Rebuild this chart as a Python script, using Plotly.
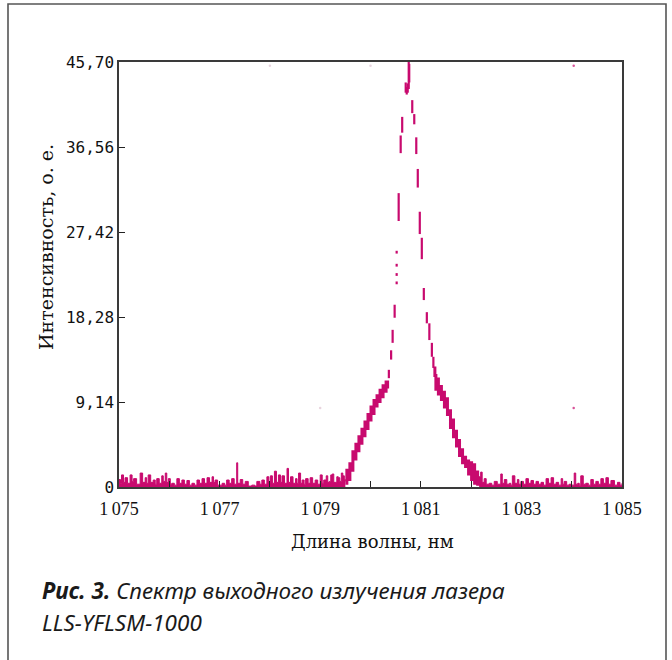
import plotly.graph_objects as go

# ---- data ----
base_left_x = [1075.0, 1075.03, 1075.05, 1075.09, 1075.12, 1075.17, 1075.22, 1075.26, 1075.29, 1075.35,
               1075.42, 1075.47, 1075.52, 1075.55, 1075.58, 1075.63, 1075.68, 1075.72, 1075.75, 1075.80,
               1075.85, 1075.88, 1075.92, 1075.95, 1075.98, 1076.02, 1076.05, 1076.10, 1076.15, 1076.20,
               1076.25, 1076.30, 1076.35, 1076.40, 1076.45, 1076.50, 1076.55, 1076.60, 1076.65, 1076.70,
               1076.75, 1076.80, 1076.85, 1076.88, 1076.91, 1076.96, 1077.05, 1077.10, 1077.14, 1077.19,
               1077.24, 1077.29, 1077.34, 1077.36, 1077.41, 1077.46, 1077.51, 1077.57, 1077.64, 1077.70,
               1077.74, 1077.80, 1077.84, 1077.89, 1077.94, 1077.98, 1078.01, 1078.05, 1078.09, 1078.13,
               1078.17, 1078.21, 1078.24, 1078.29, 1078.34, 1078.37, 1078.41, 1078.46, 1078.51, 1078.54,
               1078.57, 1078.61, 1078.64, 1078.68, 1078.71, 1078.76, 1078.80, 1078.85, 1078.90, 1078.95,
               1079.00, 1079.04, 1079.07, 1079.12, 1079.15, 1079.18, 1079.21, 1079.24, 1079.27, 1079.30,
               1079.33, 1079.36, 1079.39, 1079.42, 1079.45, 1079.48, 1079.50]
base_left_y = [0.8, 0.4, 1.3, 0.5, 1.0, 0.4, 1.3, 0.6, 0.9, 0.3,
               1.5, 0.5, 1.0, 0.4, 1.3, 0.5, 0.75, 0.3, 0.9, 0.4,
               1.2, 0.6, 1.5, 0.5, 0.9, 0.3, 0.4, 0.2, 0.9, 0.4,
               0.75, 0.3, 0.7, 0.2, 0.4, 0.2, 0.75, 0.4, 0.9, 0.4,
               1.0, 0.5, 1.1, 0.5, 0.75, 0.2, 0.4, 0.2, 0.75, 0.4,
               0.9, 0.3, 2.6, 0.4, 0.8, 0.3, 0.6, 0.1, 0.2, 0.1,
               0.6, 0.3, 0.75, 0.3, 1.1, 0.5, 1.2, 0.4, 1.7, 0.5,
               1.3, 0.5, 1.2, 0.4, 2.0, 0.5, 1.1, 0.4, 0.9, 0.4,
               1.5, 0.4, 0.75, 0.3, 0.9, 0.4, 1.0, 0.4, 0.75, 0.3,
               1.3, 0.4, 0.75, 1.2, 0.5, 0.6, 1.3, 1.4, 0.5, 0.5,
               1.1, 1.0, 0.6, 1.5, 1.2, 0.8, 0.6]

rise_x = [1079.50, 1079.53, 1079.56, 1079.59, 1079.62, 1079.65, 1079.68, 1079.71, 1079.74, 1079.77,
          1079.80, 1079.83, 1079.86, 1079.89, 1079.92, 1079.95, 1079.98, 1080.01, 1080.04, 1080.07,
          1080.10, 1080.13, 1080.16, 1080.19, 1080.22, 1080.25, 1080.28, 1080.31, 1080.34]
rise_y = [0.4, 1.8, 0.8, 2.5, 1.8, 3.8, 3.0, 4.6, 3.9, 5.4,
          4.7, 6.2, 5.5, 7.0, 6.3, 7.8, 7.2, 8.6, 7.9, 9.3,
          8.7, 9.8, 9.2, 10.4, 9.7, 10.9, 10.3, 11.3, 10.6]

# sparse vertical strokes around the peak: wavelength, low, high
peak_x = [1080.365, 1080.41, 1080.44, 1080.48, 1080.52, 1080.52, 1080.52, 1080.52, 1080.56, 1080.60,
          1080.63, 1080.70, 1080.72, 1080.74, 1080.76, 1080.77, 1080.83, 1080.87, 1080.91, 1080.94,
          1080.98, 1081.02, 1081.06, 1081.12, 1081.17, 1081.22, 1081.25]
peak_lo = [11.7, 13.7, 15.5, 18.2, 21.8, 22.7, 23.7, 25.1, 28.6, 35.9,
           38.1, 42.4, 42.2, 42.4, 42.8, 43.5, 40.2, 39.0, 35.8, 32.2,
           27.2, 24.5, 20.1, 17.6, 15.8, 14.0, 12.8]
peak_hi = [12.6, 14.7, 16.9, 19.6, 22.1, 23.0, 24.0, 25.4, 31.6, 37.8,
           39.8, 43.5, 43.0, 43.4, 45.7, 45.5, 41.6, 40.1, 37.6, 34.2,
           29.6, 26.8, 21.4, 18.8, 17.6, 15.5, 14.0]

fall_x = [1081.25, 1081.28, 1081.30, 1081.32, 1081.35, 1081.38, 1081.41, 1081.44, 1081.47, 1081.50,
          1081.53, 1081.56, 1081.59, 1081.62, 1081.65, 1081.68, 1081.71, 1081.74, 1081.77, 1081.80,
          1081.83, 1081.86, 1081.89, 1081.92, 1081.95, 1081.98, 1082.01, 1082.04, 1082.07, 1082.10,
          1082.13, 1082.16]
fall_y = [12.8, 12.0, 10.5, 11.6, 10.0, 10.8, 9.4, 10.2, 8.6, 9.5,
          7.8, 8.2, 6.4, 7.2, 5.4, 6.0, 4.4, 5.0, 3.4, 4.0,
          2.6, 3.2, 2.2, 2.8, 1.4, 2.6, 0.8, 2.4, 0.4, 1.6,
          0.3, 1.1]

base_right_x = [1082.16, 1082.19, 1082.22, 1082.26, 1082.30, 1082.36, 1082.41, 1082.46, 1082.52, 1082.59,
                1082.62, 1082.66, 1082.71, 1082.76, 1082.79, 1082.82, 1082.87, 1082.92, 1082.95, 1082.99,
                1083.04, 1083.09, 1083.14, 1083.19, 1083.24, 1083.29, 1083.34, 1083.39, 1083.44, 1083.49,
                1083.54, 1083.59, 1083.64, 1083.69, 1083.74, 1083.79, 1083.82, 1083.85, 1083.90, 1083.95,
                1084.00, 1084.05, 1084.08, 1084.12, 1084.15, 1084.18, 1084.23, 1084.28, 1084.33, 1084.38,
                1084.43, 1084.48, 1084.53, 1084.58, 1084.63, 1084.68, 1084.73, 1084.78, 1084.85, 1084.91,
                1084.96, 1085.0]
base_right_y = [1.1, 1.6, 0.5, 0.9, 0.3, 0.4, 0.2, 0.6, 0.3, 1.4,
                0.4, 0.8, 0.3, 0.4, 0.2, 1.2, 0.4, 0.8, 0.3, 0.6,
                0.3, 0.9, 0.4, 0.7, 0.3, 0.6, 0.3, 0.5, 0.2, 0.9,
                0.4, 1.0, 0.3, 0.5, 0.2, 0.9, 0.3, 0.6, 0.2, 0.3,
                0.2, 1.5, 0.3, 0.4, 0.2, 1.2, 0.3, 0.4, 0.2, 0.8,
                0.3, 0.6, 0.3, 0.9, 0.4, 1.0, 0.3, 0.7, 0.2, 0.5,
                0.2, 0.4]

stray_x = [1084.04, 1084.04]
stray_y = [45.3, 8.5]
faint_x = [1078.0, 1080.0, 1079.0]
faint_y = [45.3, 45.3, 8.5]

x_tickvals = [1075, 1076, 1077, 1078, 1079, 1080, 1081, 1082, 1083, 1084, 1085]
x_ticktext = ["1\u2009075", "", "1\u2009077", "", "1\u2009079", "", "1\u2009081", "", "1\u2009083", "", "1\u2009085"]
y_tickvals = [0, 9.14, 18.28, 27.42, 36.56, 45.70]
y_ticktext = ["0", "9,14", "18,28", "27,42", "36,56", "45,70"]

COLOR = "#c80a6e"

fig = go.Figure()

fig.add_trace(go.Scatter(x=base_left_x, y=base_left_y, mode="lines", line_shape="hv",
                         line=dict(color=COLOR, width=1), fill="tozeroy", fillcolor=COLOR,
                         hoverinfo="skip"))
fig.add_trace(go.Scatter(x=base_right_x, y=base_right_y, mode="lines", line_shape="hv",
                         line=dict(color=COLOR, width=1), fill="tozeroy", fillcolor=COLOR,
                         hoverinfo="skip"))
fig.add_trace(go.Scatter(x=rise_x, y=rise_y, mode="lines", line_shape="hv",
                         line=dict(color=COLOR, width=3), hoverinfo="skip"))
fig.add_trace(go.Scatter(x=fall_x, y=fall_y, mode="lines", line_shape="hv",
                         line=dict(color=COLOR, width=3), hoverinfo="skip"))

seg_x, seg_y = [], []
for xv, lo, hi in zip(peak_x, peak_lo, peak_hi):
    seg_x += [xv, xv, None]
    seg_y += [lo, hi, None]
fig.add_trace(go.Scatter(x=seg_x, y=seg_y, mode="lines",
                         line=dict(color=COLOR, width=2.2), hoverinfo="skip"))
fig.add_trace(go.Scatter(x=stray_x, y=stray_y, mode="markers",
                         marker=dict(color=COLOR, size=2.5, opacity=0.7), hoverinfo="skip"))
fig.add_trace(go.Scatter(x=faint_x, y=faint_y, mode="markers",
                         marker=dict(color="#d9b8c8", size=2.5, opacity=0.6), hoverinfo="skip"))

AX = "#3a3a3a"
fig.update_layout(
    width=672, height=660,
    margin=dict(l=119, r=50, t=62, b=173),
    paper_bgcolor="white", plot_bgcolor="white",
    showlegend=False,
    xaxis=dict(range=[1075, 1085], tickvals=x_tickvals, ticktext=x_ticktext,
               ticks="inside", ticklen=6, tickcolor="#222", tickwidth=1.2,
               showline=True, linecolor=AX, linewidth=1.5, mirror=True,
               showgrid=False, zeroline=False, ticklabelstandoff=5,
               tickfont=dict(family="Liberation Serif", size=18, color="#111")),
    yaxis=dict(range=[0, 45.70], tickvals=y_tickvals, ticktext=y_ticktext,
               ticks="inside", ticklen=6, tickcolor="#222", tickwidth=1.2,
               showline=True, linecolor=AX, linewidth=1.5, mirror=True,
               showgrid=False, zeroline=False,
               tickfont=dict(family="DejaVu Sans Mono", size=16, color="#111")),
)

def px2paper_x(px):
    return (px - 119) / 503.0

def px2paper_y(py):
    return (487 - py) / 425.0

# card border
fig.add_shape(type="rect", xref="paper", yref="paper",
              x0=px2paper_x(8), x1=px2paper_x(666), y0=px2paper_y(700), y1=px2paper_y(4),
              line=dict(color="#555", width=1.6), fillcolor="rgba(0,0,0,0)", layer="below")

fig.add_annotation(text="Длина волны, нм", xref="paper", yref="paper",
                   x=px2paper_x(372), y=px2paper_y(541), xanchor="center", yanchor="middle",
                   showarrow=False,
                   font=dict(family="DejaVu Serif", size=18, color="#111"))
fig.add_annotation(text="Интенсивность, о. е.", xref="paper", yref="paper",
                   x=px2paper_x(46), y=px2paper_y(247), xanchor="center", yanchor="middle",
                   showarrow=False, textangle=-90,
                   font=dict(family="DejaVu Serif", size=19, color="#111"))
fig.add_annotation(text="<b>Рис. 3.</b> Спектр выходного излучения лазера", xref="paper", yref="paper",
                   x=px2paper_x(40), y=px2paper_y(590), xanchor="left", yanchor="middle", showarrow=False,
                   font=dict(family="Noto Sans", size=22.5, color="#1a1a1a", style="italic"))
fig.add_annotation(text="LLS-YFLSM-1000", xref="paper", yref="paper",
                   x=px2paper_x(40), y=px2paper_y(622), xanchor="left", yanchor="middle", showarrow=False,
                   font=dict(family="Noto Sans", size=22.5, color="#1a1a1a", style="italic"))

fig.write_html("out.html")
